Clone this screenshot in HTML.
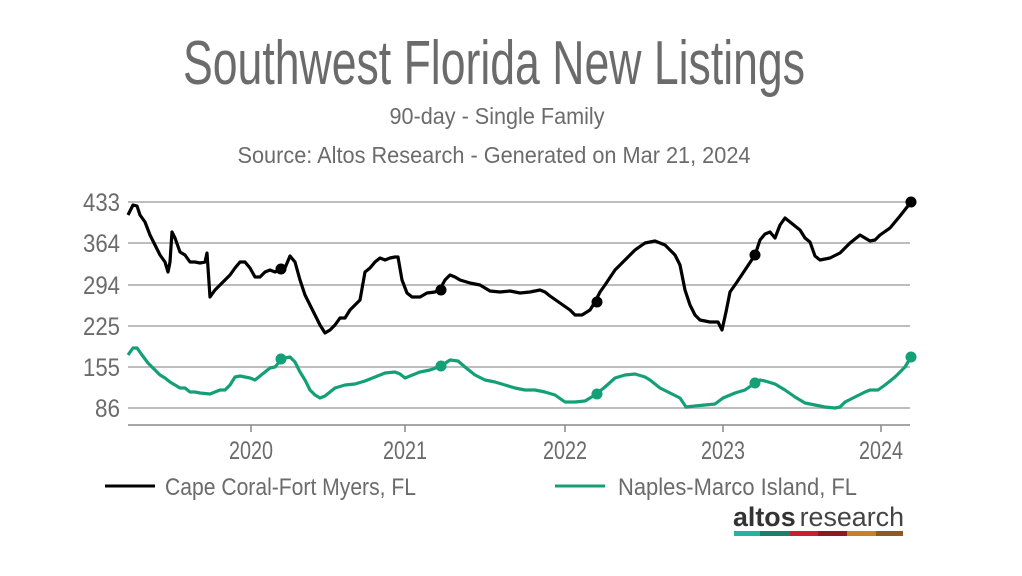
<!DOCTYPE html>
<html><head><meta charset="utf-8"><style>
body{margin:0;background:#fff;}
svg{display:block}
.c{font-family:"Liberation Sans Narrow","Liberation Sans",sans-serif;fill:#6b6b6b}
</style></head><body>
<svg width="1022" height="576" viewBox="0 0 1022 576" xmlns="http://www.w3.org/2000/svg">
<rect width="1022" height="576" fill="#fff"/>
<text class="c" x="494" y="84" text-anchor="middle" font-size="62" textLength="622" lengthAdjust="spacingAndGlyphs" fill="#707070">Southwest Florida New Listings</text>
<text class="c" x="497" y="124" text-anchor="middle" font-size="23" textLength="215" lengthAdjust="spacingAndGlyphs">90-day - Single Family</text>
<text class="c" x="494" y="163" text-anchor="middle" font-size="23" textLength="513" lengthAdjust="spacingAndGlyphs">Source: Altos Research - Generated on Mar 21, 2024</text>
<g stroke="#bdbdbd" stroke-width="2">
<line x1="128" x2="910" y1="202" y2="202"/><line x1="128" x2="910" y1="243" y2="243"/>
<line x1="128" x2="910" y1="285" y2="285"/><line x1="128" x2="910" y1="326" y2="326"/>
<line x1="128" x2="910" y1="367" y2="367"/><line x1="128" x2="910" y1="408" y2="408"/>
</g>
<line x1="128" x2="910" y1="425" y2="425" stroke="#888" stroke-width="1.5"/>
<g stroke="#888" stroke-width="1.5"><line x1="251" x2="251" y1="425" y2="432"/><line x1="405" x2="405" y1="425" y2="432"/><line x1="565" x2="565" y1="425" y2="432"/><line x1="723" x2="723" y1="425" y2="432"/><line x1="881" x2="881" y1="425" y2="432"/></g>
<g class="c" font-size="25" text-anchor="end">
<text x="120" y="211" textLength="37" lengthAdjust="spacingAndGlyphs">433</text><text x="120" y="252" textLength="37" lengthAdjust="spacingAndGlyphs">364</text><text x="120" y="294" textLength="37" lengthAdjust="spacingAndGlyphs">294</text><text x="120" y="335" textLength="37" lengthAdjust="spacingAndGlyphs">225</text><text x="120" y="376" textLength="37" lengthAdjust="spacingAndGlyphs">155</text><text x="120" y="417" textLength="25" lengthAdjust="spacingAndGlyphs">86</text>
</g>
<g class="c" font-size="25" text-anchor="middle">
<text x="251" y="459" textLength="44" lengthAdjust="spacingAndGlyphs">2020</text><text x="405" y="459" textLength="44" lengthAdjust="spacingAndGlyphs">2021</text><text x="565" y="459" textLength="44" lengthAdjust="spacingAndGlyphs">2022</text><text x="723" y="459" textLength="44" lengthAdjust="spacingAndGlyphs">2023</text><text x="881" y="459" textLength="44" lengthAdjust="spacingAndGlyphs">2024</text>
</g>
<polyline fill="none" stroke="#000" stroke-width="3.2" stroke-linejoin="round" points="128,215 133,205 137,206 140,215 145,222 150,235 155,245 160,255 165,262 168,272 170,262 172,232 175,238 180,252 185,255 190,262 195,262 200,263 205,262 207,253 210,297 215,290 220,285 225,280 230,275 235,268 240,262 245,262 250,268 255,277 260,277 265,272 270,270 275,272 280,270 285,268 290,256 295,262 300,280 305,295 310,305 315,315 320,325 325,333 330,330 335,325 340,318 345,318 350,310 355,305 360,300 365,272 370,268 375,262 380,258 385,260 390,258 395,257 398,257 402,280 407,293 412,297 420,297 427,293 435,292 440,289 445,280 450,275 455,277 460,280 470,283 480,285 490,291 500,292 510,291 520,293 530,292 540,290 545,292 550,296 560,303 570,310 575,315 582,315 590,310 595,302 600,292 605,285 615,270 625,260 635,250 645,243 655,241 665,245 675,255 680,265 685,290 690,305 695,315 700,320 710,322 718,322 722,330 726,312 730,292 737,282 745,270 755,255 760,240 765,234 770,232 775,238 780,225 785,218 790,222 800,230 805,238 810,242 815,256 820,260 830,258 840,253 850,243 860,235 865,238 870,241 875,240 880,235 890,228 900,216 911,202"/>
<polyline fill="none" stroke="#14a077" stroke-width="3.2" stroke-linejoin="round" points="128,355 133,348 137,348 142,355 148,363 155,370 160,375 165,378 170,382 175,385 180,388 185,388 190,392 195,392 200,393 210,394 220,390 225,390 230,385 235,377 240,376 245,377 250,378 255,380 260,376 265,372 270,368 275,367 281,360 285,358 290,357 295,362 300,372 305,380 310,390 315,395 320,398 325,396 330,392 335,388 345,385 355,384 365,381 375,377 385,373 395,372 400,374 405,378 410,376 420,372 430,370 441,366 450,360 458,361 465,367 475,375 485,380 495,382 505,385 515,388 525,390 535,390 545,392 555,395 565,402 575,402 585,401 595,395 605,387 615,378 625,375 635,374 645,377 650,380 660,388 670,393 680,398 686,407 695,406 705,405 715,404 723,398 735,393 745,390 755,383 760,380 765,381 775,384 785,390 795,397 805,403 815,405 825,407 835,408 840,407 845,402 855,397 865,392 870,390 878,390 885,385 895,377 905,367 911,357"/>
<g fill="#000"><circle cx="281" cy="269" r="5.5"/><circle cx="441" cy="290" r="5.5"/><circle cx="597" cy="302" r="5.5"/><circle cx="755" cy="255" r="5.5"/><circle cx="911" cy="202" r="5.5"/></g>
<g fill="#14a077"><circle cx="281" cy="359" r="5.5"/><circle cx="441" cy="366" r="5.5"/><circle cx="597" cy="394" r="5.5"/><circle cx="755" cy="383" r="5.5"/><circle cx="911" cy="357" r="5.5"/></g>
<line x1="105" x2="155" y1="486" y2="486" stroke="#000" stroke-width="3"/>
<text class="c" x="165" y="495" font-size="24" textLength="251" lengthAdjust="spacingAndGlyphs">Cape Coral-Fort Myers, FL</text>
<line x1="555" x2="605" y1="486" y2="486" stroke="#14a077" stroke-width="3"/>
<text class="c" x="618" y="495" font-size="24" textLength="239" lengthAdjust="spacingAndGlyphs">Naples-Marco Island, FL</text>
<text x="733" y="526" font-family="Liberation Sans,sans-serif" font-size="27" fill="#333" textLength="171" lengthAdjust="spacingAndGlyphs"><tspan font-weight="bold">altos</tspan><tspan dx="4" fill="#444">research</tspan></text>
<rect x="734" y="531" width="26" height="5" fill="#24b3a2"/>
<rect x="760" y="531" width="30" height="5" fill="#1e7e6e"/>
<rect x="790" y="531" width="28" height="5" fill="#c8202f"/>
<rect x="818" y="531" width="29" height="5" fill="#8b1a22"/>
<rect x="847" y="531" width="29" height="5" fill="#c77f2a"/>
<rect x="876" y="531" width="27" height="5" fill="#8f5a22"/>
</svg>
</body></html>
